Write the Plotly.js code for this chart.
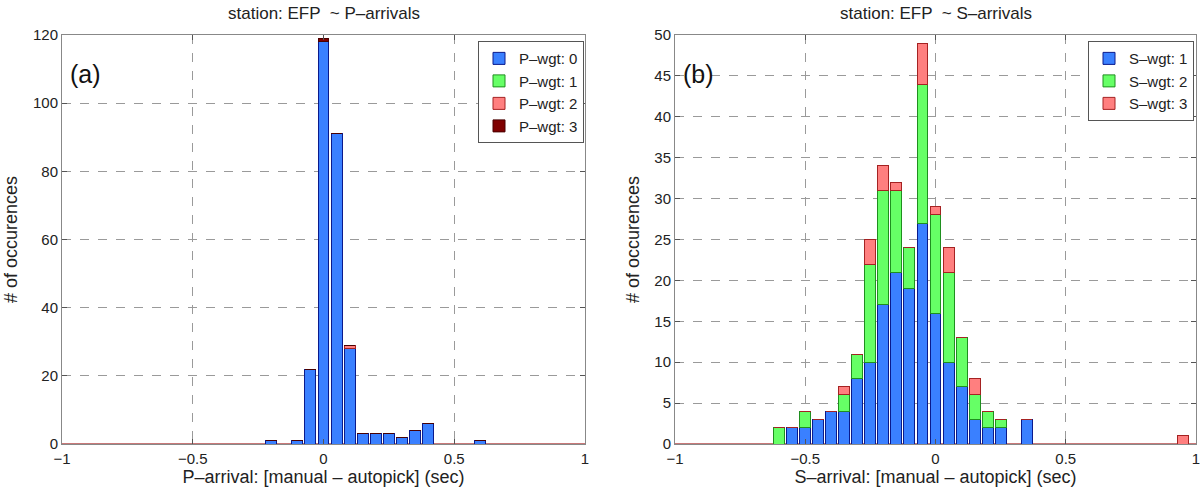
<!DOCTYPE html>
<html>
<head>
<meta charset="utf-8">
<script src="https://cdn.plot.ly/plotly-3.0.1.min.js"></script>
<style>html,body{margin:0;padding:0;background:#fff;}#chart{width:1204px;height:491px;}</style>
</head>
<body>
<div id="chart"></div>
<script>
// ---- Panel (a): P-arrivals ----
const pBins = [-0.2, -0.1, -0.05, 0, 0.05, 0.1, 0.15, 0.2, 0.25, 0.3, 0.35, 0.4, 0.6];
const pWgt0 = [1, 1, 22, 118, 91, 28, 3, 3, 3, 2, 4, 6, 1];
const pWgt1 = [0, 0, 0, 0, 0, 0, 0, 0, 0, 0, 0, 0, 0];
const pWgt2 = [0, 0, 0, 0, 0, 1, 0, 0, 0, 0, 0, 0, 0];
const pWgt3 = [0, 0, 0, 1, 0, 0, 0, 0, 0, 0, 0, 0, 0];
const pNames = ["P–wgt: 0", "P–wgt: 1", "P–wgt: 2", "P–wgt: 3"];

// ---- Panel (b): S-arrivals ----
const sBins = [-0.6, -0.55, -0.5, -0.45, -0.4, -0.35, -0.3, -0.25, -0.2, -0.15, -0.1, -0.05, 0, 0.05, 0.1, 0.15, 0.2, 0.25, 0.35, 0.95];
const sWgt1 = [0, 2, 2, 3, 4, 4, 8, 10, 17, 21, 19, 27, 16, 10, 7, 3, 2, 2, 3, 0];
const sWgt2 = [2, 0, 2, 0, 0, 2, 3, 12, 14, 10, 5, 17, 12, 11, 6, 3, 2, 1, 0, 0];
const sWgt3 = [0, 0, 0, 0, 0, 1, 0, 3, 3, 1, 0, 5, 1, 3, 0, 2, 0, 0, 0, 1];
const sNames = ["S–wgt: 1", "S–wgt: 2", "S–wgt: 3"];

const xTicks = [-1, -0.5, 0, 0.5, 1];
const xTickText = ["−1", "−0.5", "0", "0.5", "1"];

const FILL = {blue: "#3a80ff", green: "#66ff66", red: "#ff7f7f", dark: "#7f0000"};
const EDGE = {blue: "#0a1a8c", green: "#1f8f1f", red: "#a52222", dark: "#4a0000"};
const BW = 0.042;
const FONT = "Liberation Sans, Arial, Helvetica, sans-serif";

function bar(x, y, name, key, xa, ya, leg) {
  return {type: "bar", x: x, y: y, name: name, xaxis: xa, yaxis: ya, legend: leg,
    width: BW, marker: {color: FILL[key], line: {color: EDGE[key], width: 1}},
    hoverinfo: "x+y+name"};
}

const data = [
  bar(pBins, pWgt0, pNames[0], "blue", "x", "y", "legend"),
  bar(pBins, pWgt1, pNames[1], "green", "x", "y", "legend"),
  bar(pBins, pWgt2, pNames[2], "red", "x", "y", "legend"),
  bar(pBins, pWgt3, pNames[3], "dark", "x", "y", "legend"),
  bar(sBins, sWgt1, sNames[0], "blue", "x2", "y2", "legend2"),
  bar(sBins, sWgt2, sNames[1], "green", "x2", "y2", "legend2"),
  bar(sBins, sWgt3, sNames[2], "red", "x2", "y2", "legend2")
];

const W = 1204;
function xax(dom, title) {
  return {domain: dom, range: [-1, 1], tickvals: xTicks, ticktext: xTickText,
    ticks: "inside", ticklen: 5, tickcolor: "#555", mirror: "allticks",
    showline: true, linecolor: "#888", linewidth: 1, ticklabelstandoff: 1,
    showgrid: true, gridcolor: "#9a9a9a", griddash: "dash", gridwidth: 1,
    zeroline: false, tickfont: {size: 15, color: "#222", family: FONT},
    title: {text: title, font: {size: 18, color: "#222", family: FONT}, standoff: 0},
    fixedrange: true};
}
function yax(anchor, max, dt) {
  return {anchor: anchor, domain: [0, 1], range: [0, max], dtick: dt,
    ticks: "inside", ticklen: 5, tickcolor: "#555", mirror: "allticks",
    showline: true, linecolor: "#888", linewidth: 1,
    showgrid: true, gridcolor: "#9a9a9a", griddash: "dash", gridwidth: 1,
    zeroline: true, zerolinecolor: "#c87878", zerolinewidth: 2,
    tickfont: {size: 15, color: "#222", family: FONT},
    title: {text: "# of occurences", font: {size: 18, color: "#222", family: FONT}, standoff: 10},
    fixedrange: true};
}

const layout = {
  width: 1204, height: 491,
  margin: {l: 0, r: 0, t: 35, b: 47, pad: 0},
  paper_bgcolor: "#ffffff", plot_bgcolor: "#ffffff",
  barmode: "stack", bargap: 0,
  font: {family: FONT, color: "#222"},
  showlegend: true,
  xaxis: xax([62 / W, 585 / W], "P–arrival: [manual – autopick] (sec)"),
  yaxis: yax("x", 120, 20),
  xaxis2: xax([675 / W, 1196 / W], "S–arrival: [manual – autopick] (sec)"),
  yaxis2: yax("x2", 50, 5),
  legend: {x: 584 / W, xanchor: "right", y: 0.985, yanchor: "top",
    bgcolor: "#ffffff", bordercolor: "#555", borderwidth: 1,
    font: {size: 15, family: FONT, color: "#222"}, traceorder: "normal", tracegroupgap: 0},
  legend2: {x: 1194 / W, xanchor: "right", y: 0.985, yanchor: "top",
    bgcolor: "#ffffff", bordercolor: "#555", borderwidth: 1,
    font: {size: 15, family: FONT, color: "#222"}, traceorder: "normal", tracegroupgap: 0},
  annotations: [
    {text: "station: EFP  ~ P–arrivals", xref: "x domain", yref: "paper", x: 0.5, y: 1, yshift: 22,
      yanchor: "middle", showarrow: false, font: {size: 17, family: FONT, color: "#222"}},
    {text: "station: EFP  ~ S–arrivals", xref: "x2 domain", yref: "paper", x: 0.5, y: 1, yshift: 22,
      yanchor: "middle", showarrow: false, font: {size: 17, family: FONT, color: "#222"}},
    {text: "(a)", xref: "x domain", yref: "y domain", x: 0.012, xanchor: "left", y: 0.905, yanchor: "middle",
      showarrow: false, font: {size: 25, family: FONT, color: "#111"}},
    {text: "(b)", xref: "x2 domain", yref: "y2 domain", x: 0.012, xanchor: "left", y: 0.905, yanchor: "middle",
      showarrow: false, font: {size: 25, family: FONT, color: "#111"}}
  ]
};

Plotly.newPlot("chart", data, layout, {displayModeBar: false, staticPlot: true});
</script>
</body>
</html>
